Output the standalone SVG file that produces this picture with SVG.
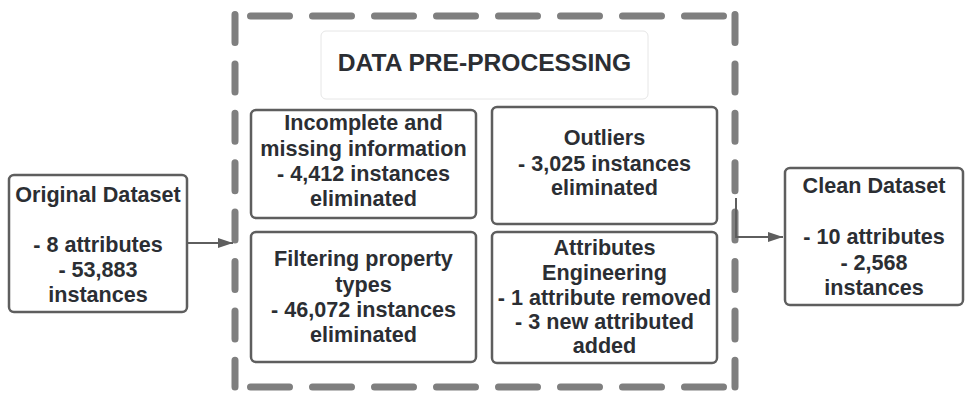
<svg xmlns="http://www.w3.org/2000/svg" width="966" height="394" viewBox="0 0 966 394">
<defs>
<style>
.box{fill:#fff;stroke:#5e5e5e;stroke-width:2.5}
.hdr{fill:#fff;stroke:#e6e6e6;stroke-width:1}
.t{font-family:"Liberation Sans",Arial,sans-serif;font-weight:bold;font-size:21.6px;fill:#2b2e33;text-anchor:middle}
.h{font-size:24.6px}
.dh{fill:none;stroke:#7f7f7f;stroke-width:7;stroke-linecap:round;stroke-dasharray:39 23}
.dv{fill:none;stroke:#7f7f7f;stroke-width:7;stroke-linecap:round;stroke-dasharray:28 21.4}
.c{fill:none;stroke:#5e5e5e;stroke-width:2}
</style>
<marker id="ah" markerWidth="16" markerHeight="12" refX="15" refY="5" orient="auto" markerUnits="userSpaceOnUse">
<path d="M0,0 L15,5 L0,10 Z" fill="#5e5e5e"/>
</marker>
</defs>
<rect width="966" height="394" fill="#fff"/>
<g id="container">
<line class="dh" x1="250.5" y1="16" x2="723.5" y2="16"/>
<line class="dh" x1="250.5" y1="387" x2="723.5" y2="387"/>
<line class="dv" x1="235" y1="14.5" x2="235" y2="387"/>
<line class="dv" x1="735" y1="14.5" x2="735" y2="387"/>
</g>
<g id="header">
<rect class="hdr" x="321" y="31" width="327" height="68" rx="5"/>
<text class="t h" x="484.5" y="71">DATA PRE-PROCESSING</text>
</g>
<g id="connectors">
<line class="c" x1="187" y1="243" x2="233" y2="243" marker-end="url(#ah)"/>
<polyline class="c" points="736,198 736,237 783,237" marker-end="url(#ah)"/>
</g>
<g id="original">
<rect class="box" x="9" y="175" width="178" height="137" rx="5"/>
<text class="t" x="98" y="202">Original Dataset</text>
<text class="t" x="98" y="252">- 8 attributes</text>
<text class="t" x="98" y="277">- 53,883</text>
<text class="t" x="98" y="302">instances</text>
</g>
<g id="clean">
<rect class="box" x="785" y="168" width="178" height="137" rx="5"/>
<text class="t" x="874" y="193">Clean Dataset</text>
<text class="t" x="874" y="244">- 10 attributes</text>
<text class="t" x="874" y="270">- 2,568</text>
<text class="t" x="874" y="295">instances</text>
</g>
<g id="incomplete">
<rect class="box" x="251" y="110" width="225" height="108" rx="5"/>
<text class="t" x="363.5" y="130">Incomplete and</text>
<text class="t" x="363.5" y="155.5">missing information</text>
<text class="t" x="363.5" y="181">- 4,412 instances</text>
<text class="t" x="363.5" y="206">eliminated</text>
</g>
<g id="outliers">
<rect class="box" x="492" y="107" width="225" height="117" rx="5"/>
<text class="t" x="604.5" y="145">Outliers</text>
<text class="t" x="604.5" y="171">- 3,025 instances</text>
<text class="t" x="604.5" y="195">eliminated</text>
</g>
<g id="filtering">
<rect class="box" x="251" y="232" width="225" height="130" rx="5"/>
<text class="t" x="363.5" y="266">Filtering property</text>
<text class="t" x="363.5" y="291.5">types</text>
<text class="t" x="363.5" y="317">- 46,072 instances</text>
<text class="t" x="363.5" y="341.5">eliminated</text>
</g>
<g id="attributes">
<rect class="box" x="492" y="232" width="225" height="131" rx="5"/>
<text class="t" x="604.5" y="255">Attributes</text>
<text class="t" x="604.5" y="280">Engineering</text>
<text class="t" x="604.5" y="305">- 1 attribute removed</text>
<text class="t" x="604.5" y="329">- 3 new attributed</text>
<text class="t" x="604.5" y="353">added</text>
</g>
</svg>
